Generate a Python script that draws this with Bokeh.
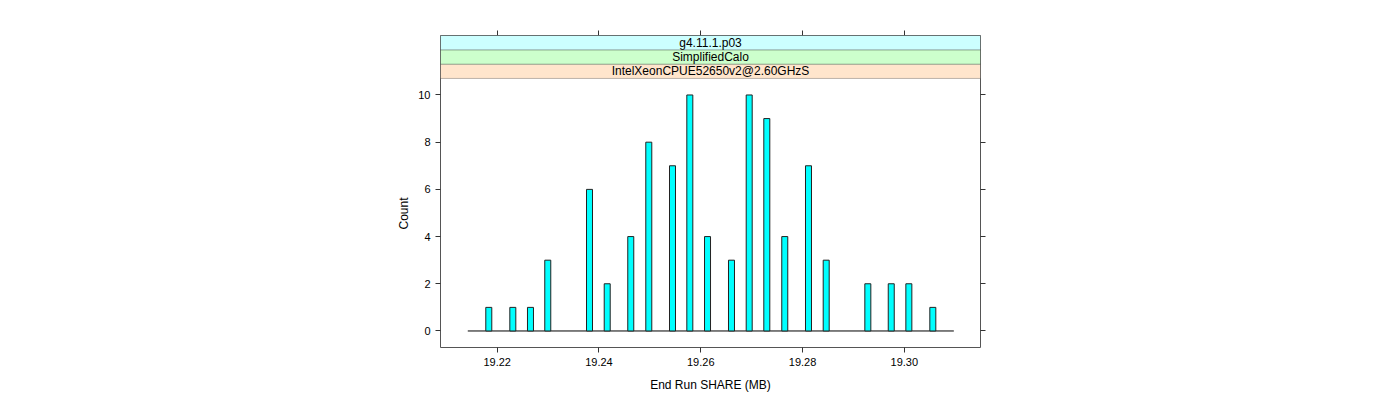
import math
from bokeh.plotting import figure
from bokeh.models import (Range1d, FixedTicker, LinearAxis, BoxAnnotation, Label, Title,
                          CustomJSTickFormatter, ColumnDataSource)
from bokeh.embed import file_html
from bokeh.resources import INLINE

# ---------------- data ----------------
share_mb = [19.21835, 19.22307, 19.22654, 19.22994, 19.23814, 19.24162, 19.24625,
            19.24979, 19.25445, 19.25785, 19.26133, 19.26604, 19.26952, 19.27298,
            19.27651, 19.28117, 19.28465, 19.29283, 19.29743, 19.30089, 19.30560]
counts = [1, 1, 1, 3, 6, 2, 4, 8, 7, 10, 4, 3, 10, 9, 4, 7, 3, 2, 2, 2, 1]
bin_width = 0.001179
breaks_lo = [19.21422]
breaks_hi = [19.30973]
x_ticks = [19.22, 19.24, 19.26, 19.28, 19.30]
y_ticks = [0, 2, 4, 6, 8, 10]
strip_labels = ["IntelXeonCPUE52650v2@2.60GHzS", "SimplifiedCalo", "g4.11.1.p03"]
strip_colors = ["#FFE5CC", "#CCFFCC", "#CCFFFF"]
x_label = "End Run SHARE (MB)"
y_label = "Count"

# ---------------- layout ----------------
FONT = "Liberation Sans"
x_lo, x_hi = 19.20886, 19.31497
y_lo, panel_top, y_hi = -0.7, 10.7, 12.52
strip_h = (y_hi - panel_top) / 3.0

p = figure(width=1400, height=400, output_backend="svg", toolbar_location=None,
           x_range=Range1d(x_lo, x_hi), y_range=Range1d(y_lo, y_hi),
           x_axis_type=None, y_axis_type=None,
           min_border_left=440, min_border_right=420, min_border_top=35, min_border_bottom=53)
p.grid.visible = False
p.outline_line_color = "#555555"
p.outline_line_width = 1
p.background_fill_color = "white"
p.border_fill_color = "white"

blank = CustomJSTickFormatter(code="return '';")
fmt = CustomJSTickFormatter(code="return tick.toFixed(2);")

def style_axis(ax, labels=True):
    ax.axis_line_color = None
    ax.major_tick_line_color = "#333333"
    ax.major_tick_out = 5
    ax.major_tick_in = 0
    ax.minor_tick_line_color = None
    ax.major_label_text_font = FONT
    ax.major_label_text_color = "black"
    ax.major_label_text_font_size = "11px"
    ax.axis_label_text_font = FONT
    ax.axis_label_text_font_size = "12px"
    ax.axis_label_text_font_style = "normal"
    ax.axis_label_text_color = "black"
    ax.major_label_standoff = 5 if labels else 0

xb = LinearAxis(ticker=FixedTicker(ticks=x_ticks), formatter=fmt)
style_axis(xb)
xb.axis_label = x_label
xb.axis_label_standoff = 9
p.add_layout(xb, "below")

xt = LinearAxis(ticker=FixedTicker(ticks=x_ticks), formatter=blank)
style_axis(xt, labels=False)
p.add_layout(xt, "above")

yl = LinearAxis(ticker=FixedTicker(ticks=y_ticks))
style_axis(yl)
p.add_layout(yl, "left")

yr = LinearAxis(ticker=FixedTicker(ticks=y_ticks), formatter=blank)
style_axis(yr, labels=False)
p.add_layout(yr, "right")

# y label centred on the panel below the strips: start it from the bottom with an offset
ytitle = Title(text=y_label, align="left", offset=118, standoff=10,
               text_font=FONT, text_font_size="12px", text_font_style="normal",
               text_color="black")
p.add_layout(ytitle, "left")

# ---------------- strips ----------------
for i, (lab, col) in enumerate(zip(strip_labels, strip_colors)):
    b = panel_top + i * strip_h
    p.add_layout(BoxAnnotation(bottom=b, top=b + strip_h, fill_color=col, fill_alpha=1.0,
                               line_color="#222222", line_width=1))
    p.add_layout(Label(x=(x_lo + x_hi) / 2, y=b + strip_h / 2, text=lab,
                       text_font=FONT, text_font_size="12px", text_color="black",
                       text_align="center", text_baseline="middle"))

# ---------------- histogram ----------------
p.segment(x0=breaks_lo, y0=[0], x1=breaks_hi, y1=[0], line_color="black", line_width=1)
src = ColumnDataSource(dict(x=share_mb, top=counts))
p.vbar(x="x", top="top", bottom=0, width=bin_width, source=src,
       fill_color="#00FFFF", line_color="#222222", line_width=1)

open("out.html", "w").write(file_html(p, INLINE))
